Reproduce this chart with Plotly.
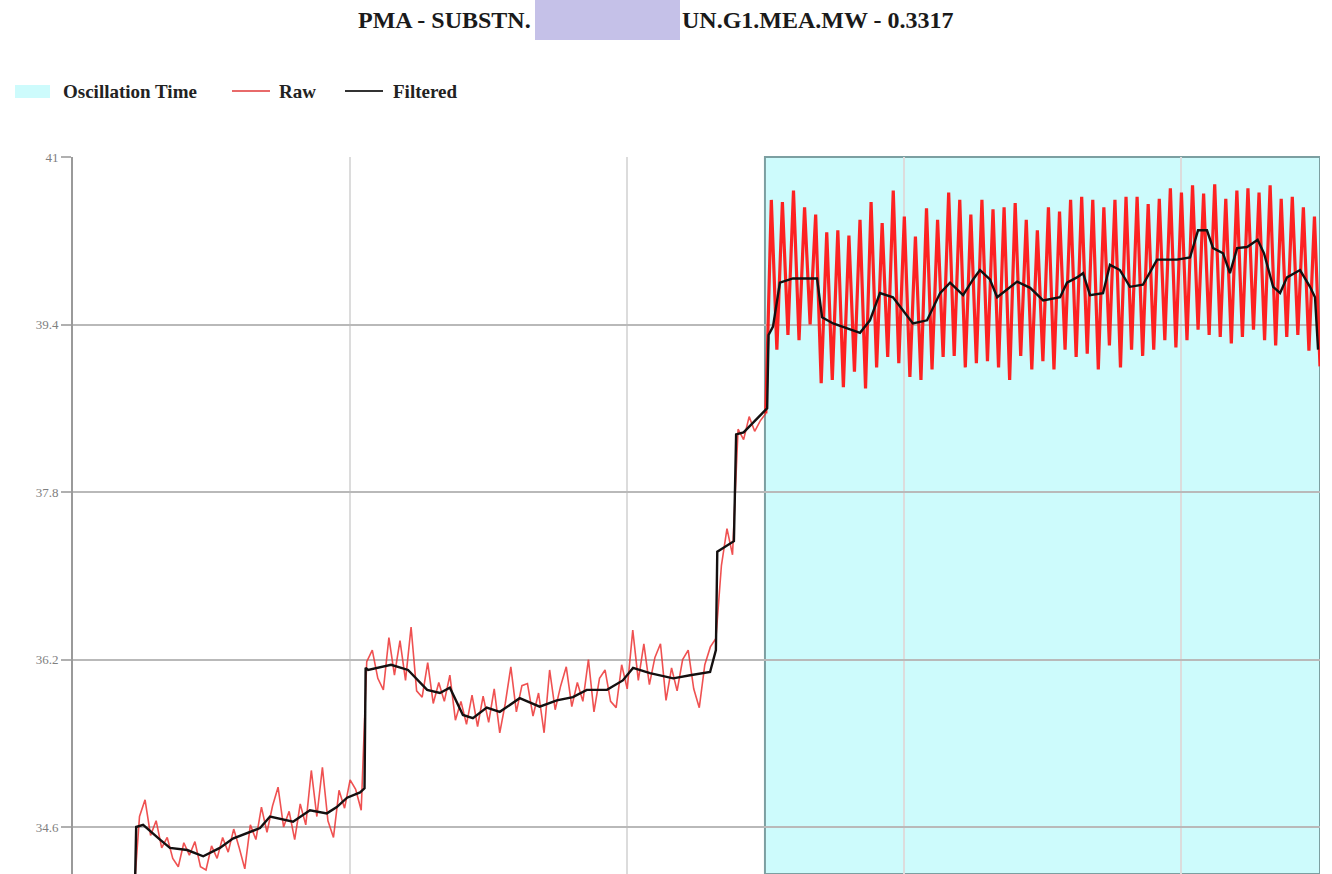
import plotly.graph_objects as go

# ---- data -------------------------------------------------------------
# sample time base for the raw signal (every 2 time units)
raw_t = list(range(0, 451, 2))

raw_mw = [
    # 0 .. 22
    33.92, 33.95, 33.90, 33.97, 33.93, 33.96, 33.91, 33.94, 33.98, 33.92, 33.95, 33.97,
    # 24 .. 104
    34.70, 34.86, 34.52, 34.66, 34.40, 34.50, 34.30, 34.22, 34.45, 34.33,
    34.46, 34.22, 34.19, 34.42, 34.30, 34.50, 34.36, 34.58, 34.40, 34.20,
    34.62, 34.48, 34.79, 34.55, 34.80, 34.98, 34.60, 34.75, 34.48, 34.82,
    34.62, 35.14, 34.70, 35.17, 34.66, 34.50, 34.95, 34.78, 35.05, 34.96,
    34.76,
    # 106 .. 230
    36.18, 36.29, 36.02, 35.91, 36.41, 36.05, 36.38, 36.00, 36.51, 35.90,
    35.84, 36.17, 35.78, 35.98, 35.80, 36.05, 35.62, 35.80, 35.58, 35.86,
    35.56, 35.85, 35.60, 35.92, 35.50, 35.78, 36.13, 35.70, 35.95, 35.97,
    35.66, 35.88, 35.50, 36.10, 35.72, 35.95, 36.13, 35.75, 35.98, 35.80,
    36.20, 35.70, 36.02, 36.10, 35.80, 35.74, 36.15, 35.92, 36.48, 36.00,
    36.35, 35.96, 36.22, 36.35, 35.81, 36.12, 35.90, 36.20, 36.29, 35.92,
    35.74, 36.15, 36.32,
    # 232 .. 250
    36.40, 37.10, 37.45, 37.20, 38.40, 38.30, 38.52, 38.38, 38.48, 38.55,
    # 252 .. 450
    40.59, 39.16, 40.57, 39.30, 40.68, 39.25, 40.52, 39.40, 40.45, 38.84,
    40.28, 38.87, 40.30, 38.80, 40.25, 38.95, 40.40, 38.79, 40.57, 38.99,
    40.37, 39.09, 40.68, 39.03, 40.43, 38.90, 40.24, 38.87, 40.51, 38.97,
    40.40, 39.09, 40.66, 39.10, 40.59, 38.99, 40.45, 39.03, 40.59, 39.05,
    40.50, 38.99, 40.52, 38.87, 40.56, 39.10, 40.40, 38.97, 40.30, 39.05,
    40.52, 38.97, 40.48, 39.16, 40.59, 39.09, 40.62, 39.12, 40.59, 38.97,
    40.52, 39.20, 40.59, 38.99, 40.62, 39.16, 40.62, 39.10, 40.55, 39.16,
    40.60, 39.25, 40.70, 39.18, 40.66, 39.25, 40.73, 39.35, 40.65, 39.30,
    40.74, 39.28, 40.60, 39.22, 40.68, 39.28, 40.70, 39.35, 40.66, 39.25,
    40.73, 39.20, 40.60, 39.28, 40.62, 39.30, 40.52, 39.15, 40.43, 39.00,
]

filt_t = [
    0, 22.3, 22.8, 25.3, 31.4, 35.0, 41.2, 47.0, 53.0, 57.7,
    67.5, 71.1, 79.4, 85.5, 91.6, 95.2, 98.9, 103.6, 105.2, 105.6,
    106.5, 114.8, 120.9, 127.8, 132.4, 136.0, 140.7, 144.3, 149.3, 154.0,
    161.2, 168.4, 174.6, 180.4, 185.4, 192.7, 198.4, 202.1, 208.2, 216.6,
    222.7, 229.9, 232.0, 232.5, 238.5, 239.3, 242.0, 250.5, 251.0, 252.6,
    255.1, 259.8, 268.5, 270.3, 274.3, 284.0, 287.6, 291.2, 295.9, 299.5,
    303.1, 308.2, 312.9, 316.5, 321.2, 324.8, 327.3, 330.9, 333.5, 340.7,
    345.4, 350.1, 356.2, 358.7, 362.3, 364.5, 367.0, 371.7, 374.2, 377.8,
    381.4, 386.1, 391.2, 398.4, 403.1, 406.0, 409.2, 411.4, 415.0, 417.5,
    420.1, 423.7, 427.5, 429.8, 433.1, 435.6, 438.1, 442.8, 446.4, 448.2,
    449.3,
]

filt_mw = [
    33.95, 33.95, 34.60, 34.62, 34.48, 34.40, 34.38, 34.32, 34.40, 34.49,
    34.59, 34.70, 34.65, 34.76, 34.73, 34.79, 34.88, 34.93, 34.97, 36.12,
    36.10, 36.15, 36.10, 35.91, 35.88, 35.93, 35.67, 35.64, 35.74, 35.70,
    35.83, 35.75, 35.81, 35.84, 35.91, 35.91, 36.00, 36.12, 36.07, 36.02,
    36.05, 36.08, 36.29, 37.23, 37.33, 38.35, 38.37, 38.60, 39.30, 39.38,
    39.80, 39.84, 39.84, 39.47, 39.41, 39.32, 39.44, 39.70, 39.66, 39.54,
    39.41, 39.44, 39.70, 39.80, 39.68, 39.83, 39.92, 39.83, 39.66, 39.81,
    39.75, 39.63, 39.66, 39.80, 39.85, 39.89, 39.68, 39.70, 39.97, 39.92,
    39.76, 39.78, 40.02, 40.02, 40.04, 40.30, 40.30, 40.13, 40.08, 39.89,
    40.13, 40.14, 40.21, 40.08, 39.76, 39.70, 39.85, 39.92, 39.76, 39.66,
    39.16,
]

# detected oscillation window (time units)
osc_start = 249.7
osc_end = 450

y_ticks = [34.6, 36.2, 37.8, 39.4, 41]
y_tick_text = ["34.6", "36.2", "37.8", "39.4", "41"]
x_ticks = [0, 100, 200, 300, 400]

title_left = "PMA - SUBSTN."
title_right = "UN.G1.MEA.MW - 0.3317"
legend_names = ["Oscillation Time", "Raw", "Filtered"]

# ---- layout geometry ---------------------------------------------------
W, H = 1332, 874
M_L, M_R, M_T, M_B = 73, 12, 157, 0
PW, PH = W - M_L - M_R, H - M_T - M_B


def px_x(px):
    return (px - M_L) / PW


def px_y(py):
    return (H - M_B - py) / PH


SERIF = "Liberation Serif, Times New Roman, serif"
CYAN = "#cdfbfc"
FILT_COLOR = "#141010"

# raw samples before the window are drawn thin; inside the window heavier
split = next(i for i, t in enumerate(raw_t) if t >= osc_start)

fig = go.Figure()

fig.add_trace(go.Scatter(
    x=raw_t[:split + 1], y=raw_mw[:split + 1], mode="lines", name=legend_names[1],
    line=dict(color="rgba(236,50,50,0.85)", width=1.6), showlegend=False,
))
fig.add_trace(go.Scatter(
    x=raw_t[split:], y=raw_mw[split:], mode="lines", name=legend_names[1],
    line=dict(color="rgba(255,22,22,0.95)", width=3.2), showlegend=False,
))
fig.add_trace(go.Scatter(
    x=filt_t, y=filt_mw, mode="lines", name=legend_names[2],
    line=dict(color=FILT_COLOR, width=2.4), showlegend=False,
))

shapes = [
    # oscillation window
    dict(type="rect", xref="x", yref="paper", x0=osc_start, x1=osc_end,
         y0=0, y1=1, layer="below", fillcolor=CYAN,
         line=dict(color="#7c9fa1", width=2)),
    # redacted block in the title
    dict(type="rect", xref="paper", yref="paper",
         x0=px_x(535), x1=px_x(680), y0=px_y(40), y1=px_y(0),
         fillcolor="#c5c1e8", line=dict(width=0), layer="above"),
    # legend swatches
    dict(type="rect", xref="paper", yref="paper",
         x0=px_x(15), x1=px_x(50), y0=px_y(98), y1=px_y(85),
         fillcolor=CYAN, line=dict(width=0)),
    dict(type="line", xref="paper", yref="paper",
         x0=px_x(232), x1=px_x(270), y0=px_y(91), y1=px_y(91),
         line=dict(color="#e86a6a", width=2)),
    dict(type="line", xref="paper", yref="paper",
         x0=px_x(345), x1=px_x(383), y0=px_y(91), y1=px_y(91),
         line=dict(color="#333333", width=2)),
]

title_font = dict(family=SERIF, size=24, color="#1a1a1a", weight="bold")
legend_font = dict(family=SERIF, size=19, color="#222222", weight="bold")

annotations = [
    dict(text=title_left, xref="paper", yref="paper", x=px_x(533), y=px_y(20),
         xanchor="right", yanchor="middle", showarrow=False, font=title_font),
    dict(text=title_right, xref="paper", yref="paper", x=px_x(680), y=px_y(20),
         xanchor="left", yanchor="middle", showarrow=False, font=title_font),
    dict(text=legend_names[0], xref="paper", yref="paper", x=px_x(61), y=px_y(92),
         xanchor="left", yanchor="middle", showarrow=False, font=legend_font),
    dict(text=legend_names[1], xref="paper", yref="paper", x=px_x(277), y=px_y(92),
         xanchor="left", yanchor="middle", showarrow=False, font=legend_font),
    dict(text=legend_names[2], xref="paper", yref="paper", x=px_x(391), y=px_y(92),
         xanchor="left", yanchor="middle", showarrow=False, font=legend_font),
]

fig.update_layout(
    width=W, height=H,
    margin=dict(l=M_L, r=M_R, t=M_T, b=M_B, pad=0),
    paper_bgcolor="white", plot_bgcolor="white",
    showlegend=False,
    shapes=shapes, annotations=annotations,
    xaxis=dict(
        range=[0, 450], tickvals=x_ticks, showticklabels=False,
        showgrid=True, gridcolor="#dcdcdc", gridwidth=1.5,
        zeroline=False, showline=False, ticks="",
    ),
    yaxis=dict(
        range=[34.151, 41], tickvals=y_ticks, ticktext=y_tick_text,
        showgrid=True, gridcolor="#b9b9b9", gridwidth=2,
        zeroline=False, showline=True, linecolor="#9a9a9a", linewidth=2,
        ticks="outside", ticklen=10, tickcolor="#b0b0b0", tickwidth=1.5,
        tickfont=dict(family=SERIF, size=13, color="#808080"),
    ),
)

fig.write_html("out.html")
